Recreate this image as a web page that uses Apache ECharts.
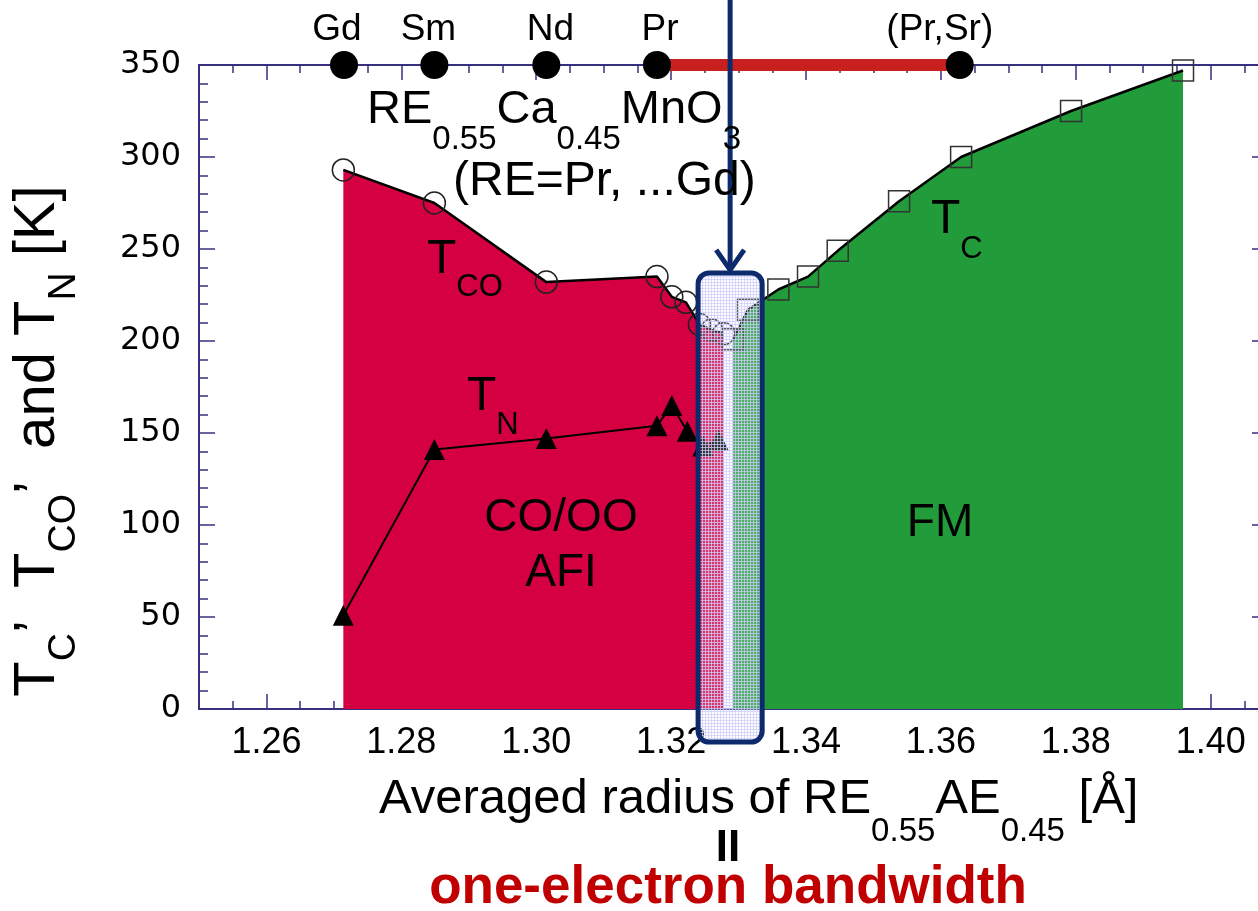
<!DOCTYPE html>
<html>
<head>
<meta charset="utf-8">
<script src="https://cdn.jsdelivr.net/npm/echarts@6/dist/echarts.min.js"></script>
<style>
  html, body { margin: 0; padding: 0; background: #ffffff; }
  #chart { width: 1258px; height: 911px; }
</style>
</head>
<body>
<div id="chart"></div>
<script>
// Charge-ordering temperature T_CO (open circles)
const radiusCO = [1.2714, 1.2849, 1.3015, 1.3179, 1.3201, 1.3222, 1.3242, 1.3260, 1.3278];
const tempCO   = [293, 275, 232, 235, 224, 221, 209, 206, 204];

// Neel temperature T_N (filled triangles)
const radiusN = [1.2714, 1.2849, 1.3015, 1.3179, 1.3201, 1.3224, 1.3247, 1.3270];
const tempN   = [51, 141, 147, 154, 165, 151, 143, 146];

// Curie temperature T_C (open squares)
const radiusC = [1.3292, 1.3314, 1.3359, 1.3403, 1.3447, 1.3538, 1.3630, 1.3793, 1.3959];
const tempC   = [201, 217, 228, 235, 249, 276, 300, 325, 347];

// Rare-earth markers along the top edge
const topLabels = ['Gd', 'Sm', 'Nd', 'Pr', '(Pr,Sr)'];
const topRadii  = [1.2715, 1.2849, 1.3015, 1.3179, 1.3628];
const topLevel  = 350;
// Pr -> (Pr,Sr) substitution range
const substRange = [1.3179, 1.3628];

// Bicritical window highlighted by the rounded box
const windowRange = [1.3240, 1.3335];
const windowTemps = [-18, 237];

// Axis ticks
const xMajorTicks = [1.26, 1.28, 1.30, 1.32, 1.34, 1.36, 1.38, 1.40];
const xMin = 1.25, xMax = 1.4085, xMinorStep = 0.005;
const yMin = 0, yMax = 350, yStep = 50;

const xMinorTicks = [];
for (let v = xMin; v <= xMax + 1e-9; v += xMinorStep) xMinorTicks.push(Math.round(v * 1000) / 1000);

const zip = (xs, ys) => xs.map((x, i) => [x, ys[i]]);

const axisColor = '#35317f';
const navy = '#0c2a6c';
const redFill = '#d50042';
const greenFill = '#229b3a';
const baseFont = 'Liberation Sans, Arial, Helvetica, sans-serif';

// light lavender grid hatch used inside the highlighted window
const hatch = document.createElement('canvas');
hatch.width = 3; hatch.height = 3;
const hg = hatch.getContext('2d');
hg.fillStyle = 'rgba(240,240,255,0.22)';
hg.fillRect(0, 0, 3, 3);
hg.fillStyle = 'rgba(205,205,250,0.75)';
hg.fillRect(0, 0, 3, 1);
hg.fillRect(0, 0, 1, 3);

// label nudges for the top markers
const topLabelOffset = { '(Pr,Sr)': [-20, 0], 'Gd': [-7, 0], 'Sm': [-6, 0], 'Nd': [4, 0], 'Pr': [3, 0] };

const chart = echarts.init(document.getElementById('chart'), null, { renderer: 'canvas' });

function xAxisMinor(position) {
  return {
    type: 'value', min: xMin, max: xMax, position: position,
    axisLine: { show: true, onZero: false, lineStyle: { color: axisColor, width: 2 } },
    axisTick: { show: true, inside: true, length: 8, customValues: xMinorTicks,
                lineStyle: { color: axisColor, width: 1.5 } },
    axisLabel: { show: false },
    splitLine: { show: false }
  };
}
function xAxisMajor(position, labels) {
  return {
    type: 'value', min: xMin, max: xMax, position: position,
    axisLine: { show: false, onZero: false },
    axisTick: { show: true, inside: true, length: 15, customValues: xMajorTicks,
                lineStyle: { color: axisColor, width: 1.5 } },
    axisLabel: labels ? {
      show: true, customValues: xMajorTicks, formatter: v => v.toFixed(2),
      fontSize: 36, fontFamily: baseFont, color: '#000', margin: 16
    } : { show: false },
    splitLine: { show: false }
  };
}
function yAxisDef(position, labels) {
  return {
    type: 'value', min: yMin, max: yMax, interval: yStep, position: position,
    axisLine: { show: true, onZero: false, lineStyle: { color: axisColor, width: 2 } },
    axisTick: { show: true, inside: true, length: 16, lineStyle: { color: axisColor, width: 1.5 } },
    minorTick: { show: true, splitNumber: 5, length: 9, lineStyle: { color: axisColor, width: 1.5 } },
    axisLabel: labels ? {
      show: true, fontSize: 32, fontFamily: 'DejaVu Sans, sans-serif', color: '#000', margin: 18
    } : { show: false },
    splitLine: { show: false }
  };
}

function subText(parts, mainSize, subSize, pad, family, color) {
  // parts: array of [text, isSub]
  const text = parts.map(p => '{' + (p[1] ? 's' : 'm') + '|' + p[0] + '}').join('');
  return {
    text: text,
    fill: color || '#000',
    rich: {
      m: { fontSize: mainSize, fontFamily: family || baseFont, fill: color || '#000' },
      s: { fontSize: subSize, fontFamily: family || baseFont, fill: color || '#000', padding: [pad, 0, 0, 0] }
    }
  };
}

function textEl(x, y, style, extra) {
  return Object.assign({
    type: 'text', x: x, y: y, z: 100, silent: true,
    style: Object.assign({ align: 'left', verticalAlign: 'middle' }, style)
  }, extra || {});
}

const option = {
  animation: false,
  backgroundColor: '#ffffff',
  grid: { left: 199, top: 65, width: 1069, height: 644, containLabel: false, outerBoundsMode: 'none' },
  xAxis: [
    xAxisMinor('bottom'),
    xAxisMajor('bottom', true),
    xAxisMinor('top'),
    xAxisMajor('top', false)
  ],
  yAxis: [
    yAxisDef('left', true),
    yAxisDef('right', false)
  ],
  series: [
    {
      name: 'T_CO', type: 'line', data: zip(radiusCO, tempCO), z: 2,
      lineStyle: { color: '#000', width: 2.5 },
      areaStyle: { color: redFill, opacity: 1 },
      symbol: 'circle', symbolSize: 22,
      itemStyle: { color: 'rgba(0,0,0,0)', borderColor: '#222', borderWidth: 1.5 }
    },
    {
      name: 'T_C', type: 'line', data: zip(radiusC, tempC), z: 2,
      lineStyle: { color: '#000', width: 2.5 },
      areaStyle: { color: greenFill, opacity: 1 },
      symbol: 'rect', symbolSize: 21,
      itemStyle: { color: 'rgba(0,0,0,0)', borderColor: '#333', borderWidth: 1.5 }
    },
    {
      name: 'T_N', type: 'line', data: zip(radiusN, tempN), z: 3,
      lineStyle: { color: '#000', width: 2 },
      symbol: 'triangle', symbolSize: 21,
      itemStyle: { color: '#000', borderColor: '#000', borderWidth: 0 }
    },
    {
      name: 'substitution', type: 'line', z: 4, clip: false,
      data: substRange.map(r => [r, topLevel]),
      symbol: 'none',
      lineStyle: { color: '#c8201f', width: 12, cap: 'butt' }
    },
    {
      name: 'rare earth', type: 'scatter', z: 5, clip: false,
      data: topRadii.map((r, i) => ({
        value: [r, topLevel], name: topLabels[i],
        label: { offset: topLabelOffset[topLabels[i]] || [0, 0] }
      })),
      symbol: 'circle', symbolSize: 28,
      itemStyle: { color: '#000', opacity: 1 },
      label: {
        show: true, position: 'top', distance: 3, formatter: p => p.name,
        fontSize: 37, fontFamily: baseFont, color: '#000'
      }
    },
    {
      name: 'window', type: 'custom', z: 10, silent: true,
      data: [[windowRange[0], windowTemps[0], windowRange[1], windowTemps[1]]],
      renderItem: function (params, api) {
        const a = api.coord([api.value(0), api.value(3)]);
        const b = api.coord([api.value(2), api.value(1)]);
        return {
          type: 'rect',
          shape: { x: a[0], y: a[1], width: b[0] - a[0], height: b[1] - a[1], r: 11 },
          style: { fill: { image: hatch, repeat: 'repeat' }, stroke: navy, lineWidth: 5 }
        };
      }
    },
    {
      name: 'arrow', type: 'custom', z: 11, silent: true,
      data: [[(windowRange[0] + windowRange[1]) / 2, windowTemps[1]]],
      renderItem: function (params, api) {
        const tip = api.coord([api.value(0), api.value(1)]);
        const x = tip[0], y = tip[1] - 3;
        return {
          type: 'group',
          children: [
            { type: 'line', shape: { x1: x, y1: 0, x2: x, y2: y - 2 },
              style: { stroke: navy, lineWidth: 5 } },
            { type: 'polyline', shape: { points: [[x - 14, y - 20], [x, y], [x + 14, y - 20]] },
              style: { stroke: navy, lineWidth: 5, fill: null, lineJoin: 'miter' } }
          ]
        };
      }
    }
  ],
  graphic: {
    elements: [
      // compound formula and RE range
      textEl(367, 110, subText([['RE', 0], ['0.55', 1], ['Ca', 0], ['0.45', 1], ['MnO', 0], ['3', 1]], 47, 33, 60)),
      textEl(453, 182, { text: '(RE=Pr, ...Gd)', fontSize: 48, fontFamily: baseFont, fill: '#000' }),
      // curve labels
      textEl(427, 260, subText([['T', 0], ['CO', 1]], 48, 31, 54)),
      textEl(467, 397, subText([['T', 0], ['N', 1]], 48, 31, 56)),
      textEl(931, 220, subText([['T', 0], ['C', 1]], 48, 31, 58)),
      // phase labels
      textEl(561, 518, { text: 'CO/OO', align: 'center', fontSize: 46, fontFamily: baseFont, fill: '#000' }),
      textEl(561, 573, { text: 'AFI', align: 'center', fontSize: 46, fontFamily: baseFont, fill: '#000' }),
      textEl(940, 523, { text: 'FM', align: 'center', fontSize: 46, fontFamily: baseFont, fill: '#000' }),
      // axis titles
      textEl(38, 441, Object.assign(subText([['T', 0], ['C', 1], ['’  T', 0], ['CO', 1], ['’  and T', 0], ['N', 1], [' [K]', 0]], 58, 39, 52), { align: 'center' }), { rotation: Math.PI / 2 }),
      textEl(379, 799, subText([['Averaged radius of RE', 0], ['0.55', 1], ['AE', 0], ['0.45', 1], [' [Å]', 0]], 49, 33, 66)),
      textEl(728, 849, { text: 'II', align: 'center', fontSize: 44, fontWeight: 'bold', fontFamily: baseFont, fill: '#000',
                         textShadowColor: 'rgba(0,0,0,0.3)', textShadowOffsetX: 2, textShadowOffsetY: 2 }),
      textEl(728, 888, { text: 'one-electron bandwidth', align: 'center', fontSize: 53, fontWeight: 'bold', fontFamily: baseFont,
                         fill: '#c00000', textShadowColor: 'rgba(0,0,0,0.35)', textShadowOffsetX: 3, textShadowOffsetY: 3 })
    ]
  }
};

chart.setOption(option);
</script>
</body>
</html>
